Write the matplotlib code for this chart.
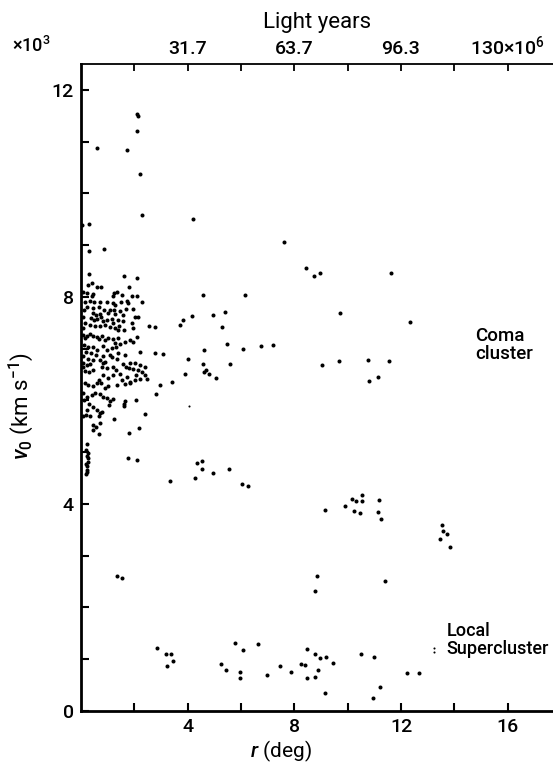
import matplotlib
matplotlib.use("Agg")
import matplotlib.pyplot as plt
import numpy as np

# r (deg) and v0 (10^3 km/s)
# sparse points high up
high_r = [2.10, 2.12, 2.10, 0.61, 1.73, 2.23, 2.29, 4.20, 0.30, 0.05,
          0.30, 0.88, 0.30, 1.60, 2.10, 7.61, 8.45, 8.72, 8.95, 11.64]
high_v = [11.53, 11.50, 11.20, 10.88, 10.84, 10.38, 9.59, 9.51, 9.41, 9.38,
          8.88, 8.93, 8.44, 8.41, 8.36, 9.07, 8.56, 8.41, 8.46, 8.46]

# dense core of the Coma cluster
core_r = [0.40, 0.27, 0.59, 0.74, 1.81, 0.09, 0.21, 0.46, 0.40, 1.25, 1.34, 1.21, 1.53, 2.09, 1.90,
          0.15, 0.34, 0.50, 0.71, 0.99, 1.21, 1.28, 1.49, 1.71, 1.75, 2.30, 0.21, 0.46, 0.69, 0.87,
          1.09, 1.25, 1.46, 1.69, 1.96, 0.44, 0.56, 0.71, 1.02, 1.27, 1.59, 2.02, 2.13,
          0.37, 0.50, 0.61, 0.75, 0.81, 0.96, 1.15, 1.21, 1.40, 1.59, 1.90, 1.44, 0.15, 0.34, 0.52,
          0.71, 0.90, 1.09, 1.27, 1.40, 1.62, 1.96, 2.54, 2.79, 0.08, 0.12, 0.06,
          0.09, 0.21, 0.15, 0.34, 0.46, 0.59, 0.69, 0.78, 0.90, 1.02, 1.21, 1.40, 1.27, 1.46, 1.65,
          1.84, 2.09, 1.96,
          0.11, 0.28, 0.44, 0.61, 0.81, 0.96, 1.15, 1.31, 1.40, 1.09, 0.81, 0.56, 0.36, 0.19, 0.09,
          0.28, 0.46, 0.71, 0.90, 1.15, 1.34, 1.65, 2.21, 2.78, 3.06,
          1.59, 1.84, 2.03, 2.21, 2.40, 1.67, 1.80, 1.95, 2.15, 2.28, 2.40, 2.05,
          0.09, 0.06, 0.21, 0.34, 0.15, 0.31, 0.46, 0.78, 0.81, 0.96, 1.21, 1.31, 1.46,
          0.84, 1.03, 0.69, 1.21, 1.52, 1.71, 1.84, 2.03, 2.21, 2.49, 0.15, 0.28, 0.46, 0.59, 0.74,
          0.90, 1.03, 1.34, 1.65, 1.84, 2.96, 3.40,
          0.09, 0.21, 0.11, 0.40, 0.52, 0.71, 0.81, 0.96, 1.09, 1.21, 1.06, 0.31, 0.44, 1.62, 1.65,
          1.62, 2.06, 2.80,
          0.24, 0.59, 0.71, 0.09, 0.19, 0.34, 0.69, 0.78, 1.25, 2.40,
          0.44, 0.46, 0.56, 0.71, 0.69, 2.17, 1.81,
          0.21, 0.25, 0.28, 0.25, 0.23, 0.23, 0.19, 0.20, 0.22, 0.18, 0.21]
core_v = [8.26, 8.23, 8.19, 8.19, 8.20, 8.10, 8.08, 8.06, 8.02, 8.07, 8.09, 8.01, 8.04, 8.02, 8.02,
          7.91, 7.92, 7.90, 7.90, 7.90, 7.88, 7.85, 7.90, 7.92, 7.89, 7.90, 7.81, 7.78, 7.80, 7.75,
          7.74, 7.75, 7.72, 7.77, 7.76, 7.69, 7.65, 7.67, 7.69, 7.67, 7.65, 7.62, 7.61,
          7.59, 7.56, 7.58, 7.61, 7.53, 7.56, 7.57, 7.50, 7.56, 7.53, 7.49, 7.43, 7.49, 7.46, 7.44,
          7.43, 7.46, 7.41, 7.39, 7.37, 7.37, 7.39, 7.43, 7.41, 7.62, 7.75, 7.40,
          7.27, 7.24, 7.20, 7.28, 7.24, 7.22, 7.19, 7.24, 7.17, 7.20, 7.18, 7.21, 7.11, 7.10, 7.13,
          7.17, 7.22, 7.13,
          7.07, 7.04, 7.03, 6.97, 7.05, 6.97, 7.01, 7.04, 6.91, 6.88, 6.85, 6.88, 6.91, 6.94, 6.85,
          6.81, 6.78, 6.79, 6.75, 6.83, 6.81, 6.88, 6.94, 6.91, 6.90,
          6.70, 6.73, 6.73, 6.68, 6.64, 6.65, 6.62, 6.60, 6.58, 6.55, 6.50, 6.50,
          6.72, 6.65, 6.69, 6.70, 6.56, 6.54, 6.58, 6.65, 6.72, 6.62, 6.65, 6.58, 6.52,
          6.49, 6.44, 6.40, 6.49, 6.40, 6.45, 6.36, 6.40, 6.41, 6.41, 6.33, 6.29, 6.27, 6.33, 6.33,
          6.25, 6.27, 6.30, 6.32, 6.33, 6.29, 6.35,
          6.14, 6.07, 6.01, 6.11, 6.15, 6.13, 6.07, 6.04, 5.98, 6.02, 5.91, 5.94, 5.88, 5.94, 5.98,
          5.89, 6.01, 6.13,
          5.81, 5.81, 5.75, 5.69, 5.72, 5.69, 5.69, 5.78, 5.65, 5.74,
          5.53, 5.43, 5.49, 5.57, 5.36, 5.46, 5.37,
          5.16, 4.98, 4.88, 4.82, 4.73, 4.66, 4.57, 5.04, 4.92, 4.78, 4.62]

# outskirts between 6 and 8 x10^3 km/s
outer_r = [4.56, 6.14, 4.15, 4.95, 5.40, 5.28, 9.72, 12.34, 5.46, 4.60, 6.06, 6.74, 7.19,
           4.56, 5.59, 4.61, 4.67, 4.81, 5.05, 9.05, 9.67, 10.77, 11.56, 10.80, 11.12,
           3.71, 3.84, 4.02, 3.90]
outer_v = [8.04, 8.03, 7.63, 7.65, 7.70, 7.42, 7.69, 7.51, 7.10, 6.97, 6.99, 7.05, 7.08,
           6.71, 6.70, 6.54, 6.58, 6.51, 6.44, 6.68, 6.76, 6.78, 6.76, 6.38, 6.45,
           7.46, 7.56, 6.80, 6.52]

# background groups 2-5 x10^3 km/s
mid_r = [1.75, 2.11, 3.34, 4.36, 4.54, 4.54, 4.27, 4.96, 5.55, 6.04, 6.26,
         9.14, 9.91, 10.17, 10.33, 10.52, 10.52, 10.24, 10.45, 11.19, 11.12, 11.26,
         13.52, 13.57, 13.71, 13.47, 13.84, 1.36, 1.55, 8.84, 8.77, 11.40]
mid_v = [4.88, 4.85, 4.45, 4.80, 4.83, 4.68, 4.50, 4.59, 4.68, 4.39, 4.35,
         3.88, 3.96, 4.09, 4.05, 4.05, 4.17, 3.86, 3.83, 4.08, 3.85, 3.71,
         3.60, 3.47, 3.41, 3.32, 3.17, 2.60, 2.57, 2.61, 2.31, 2.52]

# Local Supercluster
local_r = [2.85, 3.19, 3.36, 3.45, 3.22, 5.25, 5.44, 5.76, 6.09, 5.96, 5.96, 6.64, 6.97,
           7.45, 7.86, 8.24, 8.40, 8.49, 8.77, 8.97, 9.20, 8.87, 8.79, 8.47, 9.45, 9.14,
           10.49, 10.99, 11.20, 10.94, 12.21, 12.67]
local_v = [1.22, 1.11, 1.11, 0.96, 0.86, 0.91, 0.79, 1.31, 1.17, 0.76, 0.64, 1.30, 0.70,
           0.86, 0.75, 0.91, 0.89, 1.19, 1.11, 1.02, 1.04, 0.79, 0.66, 0.63, 0.92, 0.34,
           1.11, 1.04, 0.46, 0.25, 0.73, 0.73]

# faint marks
faint_r = [13.24, 13.24, 4.06]
faint_v = [1.22, 1.14, 5.90]

top_ticks = [4, 8, 12, 16]
top_labels = ["31.7", "63.7", "96.3", "130×10$^6$"]

plt.rcParams['font.family'] = ['Roboto', 'DejaVu Sans']
plt.rcParams['font.weight'] = 'medium'
plt.rcParams['mathtext.fontset'] = 'custom'
plt.rcParams['mathtext.rm'] = 'Roboto:medium'
plt.rcParams['mathtext.it'] = 'Roboto:italic:medium'

fig = plt.figure(figsize=(5.53, 7.66), dpi=100)
ax = fig.add_axes([81 / 553, 55 / 766, 472 / 553, 647 / 766])

r_all = high_r + core_r + outer_r + mid_r + local_r
v_all = high_v + core_v + outer_v + mid_v + local_v
ax.plot(r_all, v_all, 'o', color='black', ms=2.9, mec='none')
ax.plot(faint_r, faint_v, 'o', color='black', ms=1.5, mec='none')

ax.set_xlim(0, 17.7)
ax.set_ylim(0, 12.5)

for side in ['left', 'bottom']:
    ax.spines[side].set_linewidth(2.0)
ax.spines['top'].set_linewidth(1.3)
ax.spines['right'].set_visible(False)

ax.set_xticks([4, 8, 12, 16])
ax.set_xticks([2, 6, 10, 14], minor=True)
ax.set_yticks([0, 4, 8, 12])
ax.set_yticks(np.arange(0, 13, 1), minor=True)
ax.tick_params(which='both', direction='in', length=6, width=1.5, labelsize=14, pad=5)
ax.tick_params(axis='y', which='both', right=False)

ax.set_xlabel(r'$r$ (deg)', fontsize=15, labelpad=3)
ax.xaxis.set_label_coords((281 - 81) / 472, -0.042)
ax.set_ylabel(r'$v_0$ (km s$^{-1}$)', fontsize=16)
ax.yaxis.set_label_coords(-(81 - 36) / 472, (711 - 406) / 647)

top = ax.twiny()
top.set_xlim(ax.get_xlim())
top.set_xticks(top_ticks)
top.set_xticklabels(top_labels)
top.set_xticks([2, 6, 10, 14], minor=True)
top.tick_params(which='both', direction='in', length=5, width=1.3, labelsize=14, pad=4)
for s in ['left', 'right', 'bottom', 'top']:
    top.spines[s].set_visible(False)
top.set_xlabel('Light years', fontsize=16, labelpad=5)

fig.text(12 / 553, 1 - 46 / 766, '×10$^3$', fontsize=13, va='center', ha='left')

ax.text(14.77, 7.07, 'Coma\ncluster', fontsize=13.5, va='center', ha='left', linespacing=1.0)
ax.text(13.72, 1.37, 'Local\nSupercluster', fontsize=13, va='center', ha='left', linespacing=1.0)

fig.savefig('out.png', dpi=100)
